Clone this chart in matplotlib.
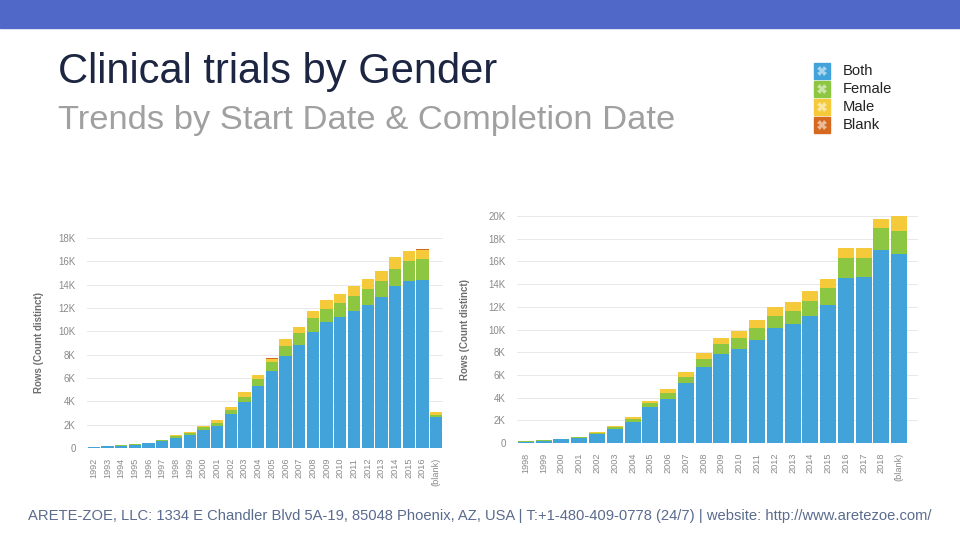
import matplotlib
matplotlib.use("Agg")
import matplotlib.pyplot as plt
import numpy as np

plt.rcParams['font.family'] = ['Liberation Sans', 'DejaVu Sans']

# ---- data (thousands of rows) ----
start_years = ['1992', '1993', '1994', '1995', '1996', '1997', '1998', '1999',
               '2000', '2001', '2002', '2003', '2004', '2005', '2006', '2007',
               '2008', '2009', '2010', '2011', '2012', '2013', '2014', '2015',
               '2016', '(blank)']
start_both = [0.08, 0.15, 0.2, 0.3, 0.4, 0.58, 0.85, 1.15, 1.55, 1.9, 2.95, 3.97,
              5.3, 6.57, 7.9, 8.8, 9.97, 10.83, 11.26, 11.74, 12.29, 12.94,
              13.86, 14.29, 14.43, 2.63]
start_female = [0.02, 0.03, 0.03, 0.04, 0.04, 0.08, 0.15, 0.15, 0.25, 0.25, 0.35,
                0.43, 0.65, 0.77, 0.87, 1.03, 1.13, 1.11, 1.17, 1.32, 1.37, 1.4,
                1.51, 1.71, 1.74, 0.23]
start_male = [0.01, 0.02, 0.02, 0.02, 0.03, 0.04, 0.1, 0.1, 0.1, 0.25, 0.2, 0.37,
              0.35, 0.31, 0.53, 0.57, 0.67, 0.76, 0.77, 0.84, 0.84, 0.86, 0.97,
              0.86, 0.82, 0.23]
start_blank = [0, 0, 0, 0, 0, 0, 0, 0, 0, 0, 0, 0, 0, 0.05, 0, 0, 0, 0, 0, 0,
               0, 0, 0, 0.04, 0.04, 0]

compl_years = ['1998', '1999', '2000', '2001', '2002', '2003', '2004', '2005',
               '2006', '2007', '2008', '2009', '2010', '2011', '2012', '2013',
               '2014', '2015', '2016', '2017', '2018', '(blank)']
compl_both = [0.12, 0.2, 0.32, 0.47, 0.82, 1.26, 1.88, 3.14, 3.9, 5.32, 6.7, 7.84,
              8.31, 9.07, 10.13, 10.48, 11.22, 12.13, 14.54, 14.6, 17.0, 16.68]
compl_female = [0.02, 0.04, 0.04, 0.04, 0.08, 0.14, 0.2, 0.36, 0.53, 0.52, 0.73,
                0.88, 0.97, 1.03, 1.06, 1.15, 1.32, 1.5, 1.79, 1.73, 1.94, 2.0]
compl_male = [0.01, 0.02, 0.02, 0.02, 0.04, 0.13, 0.18, 0.2, 0.33, 0.44, 0.5,
              0.56, 0.62, 0.7, 0.79, 0.79, 0.82, 0.82, 0.82, 0.82, 0.8, 1.32]
compl_blank = [0] * len(compl_years)

series_names = ['Both', 'Female', 'Male', 'Blank']
series_colors = ['#42a3da', '#8dc641', '#f5ca3a', '#d4691f']

BAND = '#5068c8'
GRID = '#e8e8e8'
TICK = '#8a8a8a'


def stacked(ax, cats, layers, ymax, step):
    x = np.arange(len(cats))
    bottom = np.zeros(len(cats))
    for vals, col in zip(layers, series_colors):
        v = np.array(vals) * 1000
        ax.bar(x, v, bottom=bottom, width=0.9, color=col, edgecolor='none',
               zorder=3)
        bottom += v
    ax.set_ylim(0, ymax * 1000)
    ticks = np.arange(0, ymax + 1, step) * 1000
    ax.set_yticks(ticks)
    ax.set_yticklabels(['0'] + [f'{int(t/1000)}K' for t in ticks[1:]])
    ax.set_xticks(x)
    ax.set_xticklabels(cats, rotation=90)
    ax.tick_params(axis='both', length=0, colors=TICK)
    ax.tick_params(axis='y', pad=8, labelsize=7)
    ax.tick_params(axis='x', pad=7, labelsize=6.6)
    ax.yaxis.grid(True, color=GRID, linewidth=0.7, zorder=0)
    for s in ax.spines.values():
        s.set_visible(False)
    ax.set_ylabel('Rows (Count distinct)', fontsize=7, fontweight='bold',
                  color='#6e6e6e')


fig = plt.figure(figsize=(9.6, 5.4), dpi=100)
fig.patch.set_facecolor('white')

# top band
fig.patches.append(plt.Rectangle((0, 1 - 28 / 540), 1, 28 / 540,
                                 transform=fig.transFigure, color=BAND))

fig.text(58 / 960, 1 - 72 / 540, 'Clinical trials by Gender', fontsize=30,
         color='#1c2541', va='center', ha='left')
fig.text(58 / 960, 1 - 121 / 540, 'Trends by Start Date & Completion Date',
         fontsize=24.8, color='#a0a0a0', va='center', ha='left')

# legend
for i, (name, col) in enumerate(zip(series_names, series_colors)):
    y = 1 - (71 + i * 18) / 540
    fig.lines.append(plt.Line2D([822 / 960], [y], marker='s', markersize=11,
                                color=col, transform=fig.transFigure))
    fig.lines.append(plt.Line2D([822 / 960], [y], marker='X', markersize=7,
                                color='white', alpha=0.55, markeredgewidth=0,
                                transform=fig.transFigure))
    fig.text(843 / 960, y, name, fontsize=10.6, color='#222222', va='center',
             ha='left')

# left chart: start date
ax1 = fig.add_axes([87 / 960, 1 - 448 / 540, 356 / 960, 210 / 540])
stacked(ax1, start_years, [start_both, start_female, start_male, start_blank],
        18, 2)
ax1.set_xlim(-0.5, len(start_years) - 0.5)
ax1.yaxis.set_label_coords(-0.12, 0.5)

# right chart: completion date
ax2 = fig.add_axes([517 / 960, 1 - 443 / 540, 401 / 960, 227 / 540])
stacked(ax2, compl_years, [compl_both, compl_female, compl_male, compl_blank],
        20, 2)
ax2.set_xlim(-0.5, len(compl_years) - 0.5 + 0.56)
ax2.yaxis.set_label_coords(-0.117, 0.5)

fig.text(28 / 960, 1 - 516 / 540,
         'ARETE-ZOE, LLC: 1334 E Chandler Blvd 5A-19, 85048 Phoenix, AZ, USA | '
         'T:+1-480-409-0778 (24/7) | website: http://www.aretezoe.com/',
         fontsize=10.65, color='#5a6b8e', va='center', ha='left')

fig.savefig('out.png', dpi=100)
